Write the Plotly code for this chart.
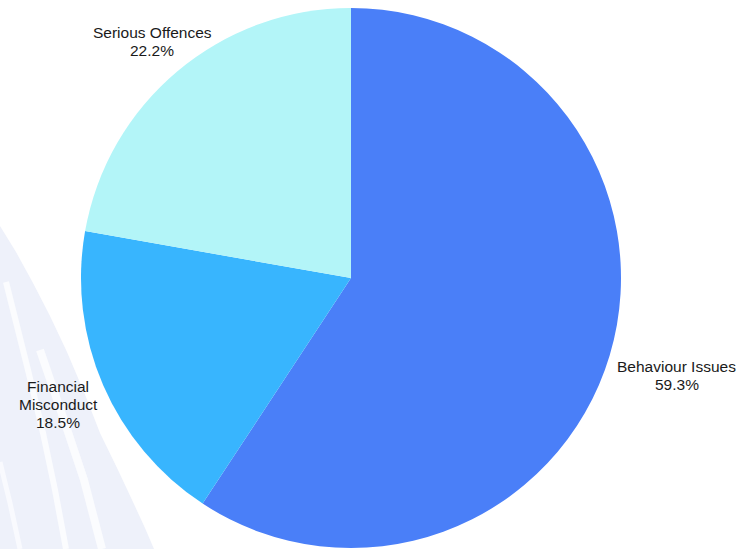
import math
import plotly.graph_objects as go

# Case categories and their counts
categories = ["Behaviour Issues", "Financial Misconduct", "Serious Offences"]
counts = [16, 5, 6]
label_lines = [["Behaviour Issues"], ["Financial", "Misconduct"], ["Serious Offences"]]
slice_colors = ["#4A7FF8", "#38B5FE", "#B3F5F8"]

# Layout of the outside labels: distance (px) of each label block from the pie centre
label_radius = [340, 319, 309]
LINE_GAP = 18
FONT = dict(family="Liberation Sans, Arial, Helvetica, sans-serif", size=15.5, color="#1a1a1a")

W, H = 751, 549
CX, CY, R = 351, 278, 270  # pie centre and radius in pixels


def px_to_paper(x, y):
    return x / W, 1 - y / H


def path_from(points, closed=False):
    pts = [px_to_paper(*p) for p in points]
    d = "M " + " L ".join(f"{x},{y}" for x, y in pts)
    return d + (" Z" if closed else "")


# Faint decorative swooshes in the lower-left background
swoosh_fill = [(0, 226), (16, 252), (33, 283), (50, 316), (67, 352), (84, 392),
               (100, 433), (118, 470), (133, 502), (145, 528), (154, 549), (0, 549)]
swoosh_gaps = [
    ([(6, 282), (16, 322), (28, 370), (43, 433), (55, 490), (66, 549)], 6, "#FBFCFE"),
    ([(40, 350), (52, 385), (64, 420), (84, 480), (102, 549)], 8, "#FBFCFE"),
    ([(0, 462), (10, 503), (20, 549)], 5, "#F9FAFE"),
]

shapes = [
    dict(type="path", xref="paper", yref="paper", path=path_from(swoosh_fill, closed=True),
         fillcolor="#EEF1FA", line=dict(width=0), layer="below")
]
shapes += [
    dict(type="path", xref="paper", yref="paper", path=path_from(pts),
         line=dict(color=c, width=w), layer="below")
    for pts, w, c in swoosh_gaps
]

fig = go.Figure(
    go.Pie(
        labels=categories,
        values=counts,
        textinfo="none",
        sort=False,
        direction="clockwise",
        rotation=0,
        marker=dict(colors=slice_colors, line=dict(color="white", width=0)),
        domain=dict(x=[(CX - R) / W, (CX + R) / W], y=[1 - (CY + R) / H, 1 - (CY - R) / H]),
        showlegend=False,
        hoverinfo="label+percent",
    )
)

# Labels placed at each slice's mid-angle, outside the pie
total = sum(counts)
annotations = []
start = 0.0
for lines, value, dist in zip(label_lines, counts, label_radius):
    frac = value / total
    mid = 2 * math.pi * (start + frac / 2)  # clockwise from 12 o'clock
    start += frac
    bx = CX + dist * math.sin(mid)
    by = CY - dist * math.cos(mid)
    block = lines + [f"{100 * frac:.1f}%"]
    n = len(block)
    for i, txt in enumerate(block):
        ly = by + (i - (n - 1) / 2) * LINE_GAP
        x, y = px_to_paper(bx, ly)
        annotations.append(dict(x=x, y=y, xref="paper", yref="paper", text=txt,
                                showarrow=False, xanchor="center", yanchor="middle", font=FONT))

fig.update_layout(
    width=W,
    height=H,
    margin=dict(l=0, r=0, t=0, b=0),
    paper_bgcolor="white",
    plot_bgcolor="white",
    shapes=shapes,
    annotations=annotations,
)

fig.write_html("out.html")
